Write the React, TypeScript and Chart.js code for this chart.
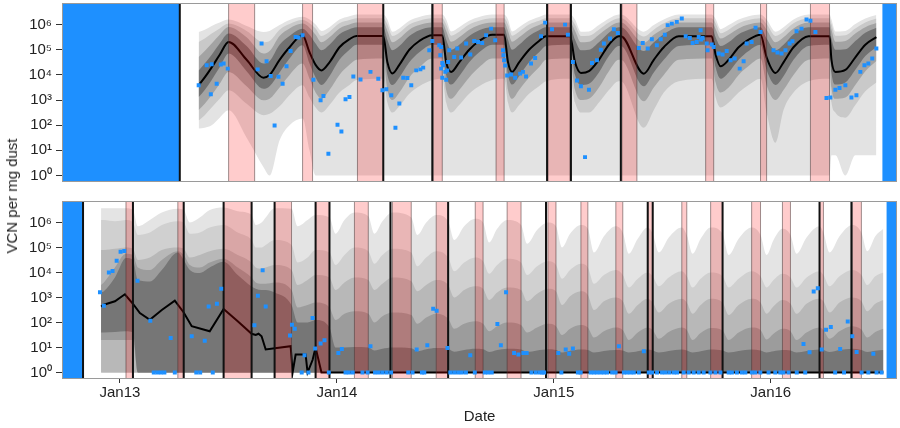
import { useEffect, useRef } from "react";
import { Chart, registerables } from "chart.js";

Chart.register(...registerables);

const FONT = "'Liberation Sans', Arial, Helvetica, sans-serif";

// ---------- axes ----------
const X_MIN = 2012.733;
const X_MAX = 2016.583;
const Y_MIN_LOG10 = -0.26;
const Y_MAX_LOG10 = 6.86;
const xTickYears = [2013, 2014, 2015, 2016];
const xTickLabels = ["Jan13", "Jan14", "Jan15", "Jan16"];
const yTickLog10 = [0, 1, 2, 3, 4, 5, 6];
const yTickLabels = ["10⁰", "10¹", "10²", "10³", "10⁴", "10⁵", "10⁶"];

// ---------- TOP PANEL ----------
const topNoDataStart = [X_MIN, 2016.514];
const topNoDataEnd = [2013.276, X_MAX];
const topEventLines = [2013.276, 2014.214, 2014.44, 2014.969, 2015.079, 2015.309];
const topPinkStart = [2013.501, 2013.842, 2014.095, 2014.444, 2014.734, 2014.973, 2015.314, 2015.7, 2015.953, 2016.183];
const topPinkEnd = [2013.621, 2013.888, 2014.214, 2014.486, 2014.771, 2015.075, 2015.383, 2015.737, 2015.981, 2016.271];

const topGridX = [
  2013.363, 2013.391, 2013.423, 2013.46, 2013.501, 2013.584, 2013.662, 2013.69, 2013.736, 2013.782, 2013.842,
  2013.874, 2013.902, 2013.929, 2013.966, 2014.012, 2014.058, 2014.09, 2014.214,
  2014.233, 2014.256, 2014.288, 2014.334, 2014.38, 2014.44, 2014.486,
  2014.504, 2014.527, 2014.564, 2014.61, 2014.656, 2014.716, 2014.771,
  2014.789, 2014.808, 2014.84, 2014.886, 2014.932, 2014.964, 2015.075,
  2015.098, 2015.125, 2015.162, 2015.208, 2015.254, 2015.3,
  2015.309, 2015.415, 2015.461, 2015.507, 2015.576, 2015.728,
  2015.746, 2015.769, 2015.806, 2015.852, 2015.898, 2015.953,
  2015.981, 2016.022, 2016.059, 2016.105, 2016.174, 2016.271,
  2016.28, 2016.298, 2016.344, 2016.39, 2016.436, 2016.487,
];
const topMedianLog10 = [
  3.59, 3.9, 4.3, 4.8, 5.31, 4.6, 3.89, 4.0, 4.6, 5.1, 5.58,
  4.9, 4.4, 4.18, 4.5, 5.1, 5.42, 5.55, 5.55,
  4.5, 4.06, 4.4, 5.0, 5.35, 5.58, 5.58,
  4.5, 4.12, 4.5, 5.0, 5.35, 5.6, 5.6,
  4.5, 4.12, 4.5, 5.0, 5.35, 5.54, 5.54,
  4.5, 4.08, 4.15, 4.6, 5.2, 5.54,
  5.54, 4.05, 4.6, 5.1, 5.54, 5.54,
  4.8, 4.34, 4.6, 5.1, 5.4, 5.6,
  4.7, 4.08, 4.5, 5.1, 5.54, 5.54,
  4.6, 4.12, 4.2, 4.7, 5.2, 5.5,
];
const topU1Log10 = [
  5.71, 5.8, 5.95, 6.08, 6.2, 5.95, 5.71, 5.75, 5.98, 6.18, 6.31,
  6.2, 6.0, 5.75, 5.9, 6.2, 6.33, 6.4, 6.4,
  6.2, 5.72, 5.85, 6.15, 6.3, 6.4, 6.4,
  6.2, 5.73, 5.9, 6.15, 6.3, 6.4, 6.4,
  6.2, 5.73, 5.9, 6.15, 6.3, 6.4, 6.4,
  6.2, 5.72, 5.73, 5.98, 6.24, 6.4,
  6.4, 5.72, 5.98, 6.2, 6.4, 6.4,
  6.22, 5.82, 5.98, 6.2, 6.33, 6.4,
  6.2, 5.72, 5.9, 6.2, 6.4, 6.4,
  6.2, 5.73, 5.75, 6.02, 6.24, 6.38,
];
const topU2Log10 = [
  5.31, 5.45, 5.65, 5.85, 6.04, 5.75, 5.3, 5.35, 5.8, 6.02, 6.18,
  6.05, 5.85, 5.55, 5.72, 6.05, 6.18, 6.25, 6.25,
  6.0, 5.55, 5.68, 6.0, 6.15, 6.25, 6.25,
  6.0, 5.56, 5.72, 6.0, 6.15, 6.25, 6.25,
  6.0, 5.56, 5.72, 6.0, 6.15, 6.25, 6.25,
  6.0, 5.55, 5.56, 5.8, 6.08, 6.25,
  6.25, 5.53, 5.8, 6.05, 6.25, 6.25,
  6.05, 5.66, 5.8, 6.05, 6.18, 6.25,
  6.02, 5.55, 5.72, 6.05, 6.25, 6.25,
  6.02, 5.56, 5.58, 5.85, 6.08, 6.24,
];
const topU3Log10 = [
  4.71, 4.95, 5.25, 5.6, 5.91, 5.5, 4.85, 4.95, 5.55, 5.85, 6.04,
  5.88, 5.6, 5.3, 5.5, 5.85, 6.0, 6.08, 6.08,
  5.75, 5.3, 5.45, 5.8, 5.98, 6.08, 6.08,
  5.75, 5.32, 5.5, 5.8, 5.98, 6.08, 6.08,
  5.75, 5.32, 5.5, 5.8, 5.98, 6.08, 6.08,
  5.75, 5.3, 5.32, 5.6, 5.9, 6.08,
  6.08, 5.28, 5.6, 5.85, 6.08, 6.08,
  5.82, 5.45, 5.6, 5.85, 6.0, 6.08,
  5.8, 5.3, 5.5, 5.85, 6.08, 6.08,
  5.8, 5.32, 5.35, 5.65, 5.9, 6.06,
];
const topU4Log10 = [
  4.18, 4.45, 4.8, 5.25, 5.65, 5.15, 4.45, 4.55, 5.2, 5.55, 5.84,
  5.6, 5.25, 4.98, 5.2, 5.62, 5.82, 5.9, 5.9,
  5.4, 4.98, 5.15, 5.55, 5.78, 5.9, 5.9,
  5.4, 5.0, 5.2, 5.55, 5.78, 5.9, 5.9,
  5.4, 5.0, 5.2, 5.55, 5.78, 5.9, 5.9,
  5.4, 4.98, 5.0, 5.3, 5.68, 5.9,
  5.9, 4.95, 5.3, 5.62, 5.9, 5.9,
  5.5, 5.15, 5.3, 5.62, 5.8, 5.9,
  5.45, 4.98, 5.2, 5.62, 5.9, 5.9,
  5.45, 5.0, 5.02, 5.35, 5.68, 5.88,
];
const topL4Log10 = [
  3.12, 3.4, 3.8, 4.3, 4.85, 4.15, 3.45, 3.55, 4.1, 4.65, 5.18,
  4.45, 3.9, 3.6, 3.95, 4.6, 5.0, 5.2, 5.2,
  4.0, 3.6, 3.9, 4.5, 4.9, 5.2, 5.2,
  4.0, 3.62, 3.95, 4.5, 4.9, 5.2, 5.2,
  4.0, 3.62, 3.95, 4.5, 4.9, 5.15, 5.2,
  4.0, 3.6, 3.65, 4.1, 4.75, 5.15,
  5.15, 3.55, 4.1, 4.6, 5.15, 5.2,
  4.3, 3.85, 4.1, 4.6, 4.95, 5.2,
  4.2, 3.6, 3.95, 4.6, 5.15, 5.2,
  4.1, 3.62, 3.7, 4.2, 4.75, 5.1,
];
const topL3Log10 = [
  2.6, 2.85, 3.2, 3.65, 4.12, 3.55, 2.99, 3.05, 3.5, 4.0, 4.45,
  3.85, 3.3, 3.05, 3.4, 4.0, 4.4, 4.6, 4.65,
  3.4, 3.0, 3.3, 3.9, 4.3, 4.65, 4.65,
  3.4, 3.05, 3.4, 3.9, 4.3, 4.65, 4.65,
  3.4, 3.05, 3.4, 3.9, 4.3, 4.6, 4.65,
  3.4, 3.0, 3.05, 3.5, 4.15, 4.6,
  4.6, 2.95, 3.5, 4.0, 4.6, 4.65,
  3.7, 3.3, 3.5, 4.0, 4.35, 4.65,
  3.6, 3.0, 3.4, 4.0, 4.6, 4.65,
  3.5, 3.05, 3.1, 3.6, 4.15, 4.55,
];
const topL2Log10 = [
  2.19, 2.4, 2.7, 3.05, 3.39, 2.85, 2.4, 2.45, 2.75, 3.2, 3.59,
  3.1, 2.7, 2.5, 2.8, 3.3, 3.6, 3.8, 3.85,
  2.9, 2.5, 2.75, 3.25, 3.55, 3.8, 3.85,
  2.9, 2.5, 2.8, 3.25, 3.55, 3.8, 3.85,
  2.9, 2.5, 2.8, 3.25, 3.55, 3.75, 3.85,
  2.9, 2.5, 2.5, 2.9, 3.4, 3.75,
  3.75, 1.9, 2.6, 3.3, 3.75, 3.85,
  3.1, 2.7, 2.9, 3.3, 3.6, 3.85,
  2.5, 1.3, 2.6, 3.3, 3.75, 3.85,
  2.9, 2.5, 2.3, 2.8, 3.35, 3.7,
];
const topL1Log10 = [
  1.87, 1.9, 2.0, 2.3, 2.59, 1.5, 0.33, 0, 1.4, 2.0, 2.27,
  1.0, 0, 0, 0, 0, 0, 0, 0,
  0, 0, 0, 0, 0, 0, 0,
  0, 0, 0, 0, 0, 0, 0,
  0, 0, 0, 0, 0, 0, 0,
  0, 0, 0, 0, 0, 0,
  0, 0, 0, 0, 0, 0,
  0, 0, 0, 0, 0, 0,
  0, 0, 0, 0, 0, 0,
  0.8, 0.8, 0, 0.8, 0.8, 0.8,
];

const topObsX = [
  2013.363, 2013.4, 2013.423, 2013.419, 2013.446, 2013.465, 2013.478, 2013.497,
  2013.635, 2013.653, 2013.676, 2013.695, 2013.713, 2013.731, 2013.75, 2013.768, 2013.787, 2013.81, 2013.823, 2013.842,
  2013.892, 2013.925, 2013.938, 2013.961, 2014.003, 2014.021, 2014.04, 2014.058, 2014.076, 2014.109, 2014.155, 2014.191, 2014.21,
  2014.228, 2014.251, 2014.27, 2014.288, 2014.306, 2014.325, 2014.343, 2014.366, 2014.385, 2014.398, 2014.426, 2014.44,
  2014.472, 2014.481, 2014.477, 2014.486, 2014.481, 2014.49, 2014.5, 2014.509, 2014.486, 2014.504, 2014.513,
  2014.518, 2014.541, 2014.555, 2014.573, 2014.596, 2014.615, 2014.633, 2014.651, 2014.67, 2014.688, 2014.711, 2014.73,
  2014.766, 2014.768, 2014.771, 2014.776, 2014.785, 2014.803, 2014.822, 2014.845, 2014.858, 2014.872, 2014.895, 2014.914,
  2014.941, 2014.96, 2014.992, 2015.052, 2015.065, 2015.088, 2015.107, 2015.125, 2015.144, 2015.162, 2015.176, 2015.199,
  2015.217, 2015.231, 2015.259, 2015.277, 2015.295,
  2015.392, 2015.41, 2015.433, 2015.452, 2015.475, 2015.493, 2015.512, 2015.525, 2015.544, 2015.567, 2015.59,
  2015.608, 2015.627, 2015.64, 2015.659, 2015.668, 2015.677, 2015.679, 2015.686, 2015.705, 2015.709, 2015.728, 2015.737,
  2015.76, 2015.778, 2015.797, 2015.815, 2015.834, 2015.857, 2015.875, 2015.889, 2015.912, 2015.93, 2015.953,
  2016.013, 2016.031, 2016.05, 2016.068, 2016.087, 2016.1, 2016.119, 2016.142, 2016.165, 2016.183, 2016.206,
  2016.257, 2016.275, 2016.298, 2016.317, 2016.344, 2016.372, 2016.395, 2016.413, 2016.432, 2016.45, 2016.468, 2016.487,
];
const topObsLog10 = [
  3.59, 4.38, 4.42, 3.23, 3.65, 4.41, 4.45, 4.25,
  4.22, 5.25, 4.54, 3.96, 1.99, 3.93, 3.65, 4.34, 4.95, 5.51, 5.49, 5.58,
  3.81, 2.99, 3.16, 0.86, 2.02, 1.75, 3.03, 3.12, 3.94, 3.82, 4.12, 3.85, 3.39,
  3.43, 3.19, 1.9, 2.86, 3.89, 3.88, 3.59, 4.18, 4.22, 4.29, 4.98, 5.35,
  5.18, 5.11, 4.78, 4.47, 4.25, 4.38, 4.12, 4.18, 3.89, 3.81, 4.51,
  4.98, 4.71, 5.05, 4.69, 5.25, 4.81, 5.35, 5.31, 5.27, 5.58, 5.84, 5.38,
  4.98, 4.78, 4.58, 4.37, 3.98, 4.02, 3.89, 4.05, 4.12, 3.94, 4.45, 4.67,
  5.54, 6.08, 5.82, 6.0, 5.6, 4.51, 3.78, 3.55, 0.73, 3.41, 4.47, 4.58,
  5.0, 5.25, 5.45, 5.82, 5.67,
  5.07, 5.27, 5.05, 5.42, 5.18, 5.42, 5.6, 5.98, 6.04, 6.11, 6.24,
  5.54, 5.47, 5.27, 5.31, 5.51, 5.78, 5.41, 5.47, 5.25, 4.98, 5.21, 5.11,
  4.85, 4.81, 4.95, 4.58, 4.65, 4.25, 4.54, 5.25, 5.31, 5.88, 5.71,
  4.98, 4.89, 4.85, 4.98, 5.25, 5.34, 5.74, 5.84, 6.2, 6.15, 5.71,
  3.08, 3.1, 3.41, 3.48, 3.59, 3.1, 3.19, 4.12, 4.38, 4.45, 4.65, 5.05,
];

// ---------- BOTTOM PANEL ----------
const botNoDataStart = [X_MIN, 2016.533];
const botNoDataEnd = [2012.83, X_MAX];
const botEventLines = [2012.83, 2013.06, 2013.294, 2013.478, 2013.607, 2013.713, 2013.902, 2013.966, 2014.247, 2014.513, 2014.964, 2015.433, 2015.456, 2015.778, 2016.225, 2016.372];
const botPinkStart = [2013.028, 2013.267, 2013.478, 2013.713, 2013.902, 2014.081, 2014.256, 2014.458, 2014.638, 2014.785, 2014.973, 2015.125, 2015.286, 2015.433, 2015.59, 2015.723, 2015.912, 2016.054, 2016.225, 2016.376];
const botPinkEnd = [2013.06, 2013.294, 2013.607, 2013.791, 2013.966, 2014.145, 2014.343, 2014.513, 2014.674, 2014.849, 2015.01, 2015.157, 2015.318, 2015.456, 2015.613, 2015.778, 2015.953, 2016.091, 2016.243, 2016.418];

const botGridX = [
  2012.913, 2012.926, 2012.977, 2013.028, 2013.06, 2013.083, 2013.138, 2013.193, 2013.267, 2013.294,
  2013.322, 2013.368, 2013.414, 2013.478, 2013.543, 2013.607, 2013.626, 2013.653, 2013.672, 2013.713,
  2013.791, 2013.819, 2013.865, 2013.902, 2013.966,
  2013.994, 2014.035, 2014.081,
  2014.145, 2014.173, 2014.21, 2014.256,
  2014.343, 2014.371, 2014.412, 2014.458,
  2014.513, 2014.541, 2014.587, 2014.638,
  2014.674, 2014.702, 2014.739, 2014.785,
  2014.849, 2014.877, 2014.923, 2014.973,
  2015.01, 2015.038, 2015.075, 2015.125,
  2015.157, 2015.185, 2015.231, 2015.286,
  2015.318, 2015.346, 2015.387, 2015.433,
  2015.456, 2015.484, 2015.53, 2015.59,
  2015.613, 2015.64, 2015.677, 2015.723,
  2015.778, 2015.806, 2015.852, 2015.912,
  2015.953, 2015.981, 2016.013, 2016.054,
  2016.091, 2016.119, 2016.165, 2016.225,
  2016.243, 2016.271, 2016.317, 2016.376,
  2016.418, 2016.445, 2016.482, 2016.519,
];
const botU1Log10 = [
  6.57, 6.57, 6.57, 6.57, 6.5, 5.85, 6.1, 6.4, 6.55, 6.5,
  6.0, 6.2, 6.5, 6.6, 6.45, 6.3, 5.9, 6.0, 6.2, 6.57,
  6.55, 5.85, 6.1, 6.3, 6.2,
  5.55, 6.1, 6.4,
  6.25, 5.55, 6.05, 6.4,
  6.2, 5.5, 6.0, 6.3,
  6.05, 5.3, 5.85, 6.15,
  6.0, 5.2, 5.75, 6.1,
  5.9, 5.15, 5.7, 6.0,
  5.85, 5.0, 5.55, 5.9,
  5.75, 4.8, 5.45, 5.85,
  5.6, 4.75, 5.35, 5.8,
  5.55, 4.8, 5.4, 5.8,
  5.5, 4.75, 5.35, 5.8,
  5.55, 4.7, 5.35, 5.8,
  5.5, 4.7, 5.3, 5.75,
  5.5, 4.75, 5.4, 5.85,
  5.6, 4.8, 5.45, 5.9,
  5.6, 4.85, 5.45, 5.75,
];
const botU2Log10 = [
  6.1, 6.1, 6.05, 6.1, 6.0, 5.5, 5.6, 5.9, 6.05, 6.0,
  5.55, 5.6, 5.8, 5.9, 5.6, 5.3, 5.0, 5.0, 5.1, 5.3,
  5.1, 4.4, 4.6, 4.9, 4.8,
  4.3, 4.7, 5.0,
  4.85, 4.35, 4.7, 4.95,
  4.8, 4.25, 4.6, 4.85,
  4.6, 4.05, 4.4, 4.6,
  4.45, 3.95, 4.3, 4.55,
  4.4, 3.9, 4.25, 4.45,
  4.3, 3.75, 4.1, 4.35,
  4.2, 3.55, 3.9, 4.1,
  3.9, 3.4, 3.75, 4.0,
  3.85, 3.45, 3.8, 4.05,
  3.85, 3.4, 3.75, 4.0,
  3.85, 3.4, 3.75, 4.05,
  3.85, 3.4, 3.7, 3.95,
  3.8, 3.4, 3.8, 4.05,
  3.9, 3.45, 3.85, 4.1,
  3.9, 3.5, 3.85, 4.0,
];
const botU3Log10 = [
  4.9, 4.9, 4.95, 5.0, 4.95, 4.5, 4.6, 4.9, 5.0, 4.95,
  4.6, 4.7, 4.85, 4.95, 4.7, 4.4, 4.2, 4.15, 4.2, 4.3,
  4.1, 3.5, 3.7, 3.9, 3.8,
  3.3, 3.6, 3.8,
  3.7, 3.3, 3.55, 3.8,
  3.65, 3.25, 3.5, 3.7,
  3.5, 3.0, 3.3, 3.45,
  3.35, 2.9, 3.2, 3.4,
  3.3, 2.85, 3.15, 3.35,
  3.25, 2.7, 3.05, 3.25,
  3.1, 2.5, 2.85, 3.0,
  2.85, 2.35, 2.7, 2.95,
  2.8, 2.4, 2.75, 2.95,
  2.8, 2.35, 2.7, 2.95,
  2.8, 2.3, 2.7, 2.95,
  2.8, 2.35, 2.65, 2.9,
  2.75, 2.35, 2.75, 2.95,
  2.85, 2.4, 2.8, 3.0,
  2.85, 2.45, 2.75, 2.9,
];
const botU4Log10 = [
  3.5, 3.6, 4.2, 4.75, 4.7, 4.2, 4.1, 4.5, 4.85, 4.7,
  4.3, 4.2, 4.4, 4.55, 4.2, 3.8, 3.6, 3.55, 3.55, 3.6,
  3.3, 2.6, 2.7, 2.8, 2.6,
  2.1, 2.35, 2.45,
  2.35, 2.0, 2.25, 2.4,
  2.3, 1.95, 2.2, 2.35,
  2.15, 1.75, 1.95, 2.05,
  1.95, 1.65, 1.85, 2.0,
  1.9, 1.6, 1.8, 1.95,
  1.85, 1.5, 1.75, 1.9,
  1.8, 1.4, 1.65, 1.8,
  1.7, 1.3, 1.6, 1.8,
  1.7, 1.35, 1.62, 1.8,
  1.7, 1.3, 1.58, 1.78,
  1.68, 1.3, 1.6, 1.8,
  1.7, 1.32, 1.55, 1.75,
  1.65, 1.3, 1.6, 1.8,
  1.7, 1.35, 1.65, 1.85,
  1.72, 1.4, 1.62, 1.75,
];
const botU5Log10 = [
  3.2, 3.25, 3.8, 4.58, 4.5, 3.7, 3.64, 4.1, 4.8, 4.5,
  4.1, 3.98, 4.2, 4.43, 3.9, 3.44, 3.35, 3.3, 3.3, 3.2,
  2.7, 2.0, 2.0, 2.1, 1.8,
  1.0, 1.0, 1.02,
  1.0, 0.88, 0.95, 1.0,
  0.97, 0.85, 0.93, 0.98,
  0.95, 0.83, 0.9, 0.95,
  0.93, 0.82, 0.9, 0.95,
  0.92, 0.82, 0.88, 0.93,
  0.9, 0.8, 0.87, 0.92,
  0.9, 0.8, 0.86, 0.9,
  0.88, 0.8, 0.85, 0.92,
  0.88, 0.8, 0.86, 0.92,
  0.88, 0.8, 0.85, 0.92,
  0.88, 0.8, 0.86, 0.92,
  0.88, 0.8, 0.85, 0.9,
  0.88, 0.8, 0.86, 0.92,
  0.9, 0.82, 0.9, 0.95,
  0.9, 0.82, 0.87, 0.9,
];
const botL5Log10 = [
  1.6, 1.6, 1.62, 1.65, 1.6, 0, 0, 0, 0, 0,
  0, 0, 0, 0, 0, 0, 0, 0, 0, 0,
  0, 0, 0, 0, 0,
  0, 0, 0,
  0, 0, 0, 0, 0, 0, 0, 0, 0, 0,
  0, 0, 0, 0, 0, 0, 0, 0, 0, 0,
  0, 0, 0, 0, 0, 0, 0, 0, 0, 0,
  0, 0, 0, 0, 0, 0, 0, 0, 0, 0,
  0, 0, 0, 0, 0, 0, 0, 0, 0, 0,
  0, 0, 0, 0, 0, 0, 0, 0, 0, 0,
];
const botL4Log10 = [
  1.3, 1.3, 1.3, 1.3, 1.3, 0, 0, 0, 0, 0,
  0, 0, 0, 0, 0, 0, 0, 0, 0, 0,
  0, 0, 0, 0, 0,
  0, 0, 0,
  0, 0, 0, 0, 0, 0, 0, 0, 0, 0,
  0, 0, 0, 0, 0, 0, 0, 0, 0, 0,
  0, 0, 0, 0, 0, 0, 0, 0, 0, 0,
  0, 0, 0, 0, 0, 0, 0, 0, 0, 0,
  0, 0, 0, 0, 0, 0, 0, 0, 0, 0,
  0, 0, 0, 0, 0, 0, 0, 0, 0, 0,
];

const botMedX = [
  2012.913, 2012.926, 2012.977, 2013.023, 2013.06, 2013.092, 2013.138, 2013.193, 2013.253, 2013.294,
  2013.331, 2013.414, 2013.478, 2013.543, 2013.607, 2013.626, 2013.639, 2013.653, 2013.672, 2013.787,
  2013.796, 2013.81, 2013.856, 2013.865, 2013.888, 2013.902, 2013.929, 2016.519,
];
const botMedLog10 = [
  2.64, 2.71, 2.85, 3.13, 2.75, 2.38, 2.11, 2.5, 2.87, 2.4,
  1.85, 1.65, 2.54, 2.05, 1.55, 1.5, 1.55, 1.45, 0.92, 1.05,
  0, 0.72, 0.72, 0, 0.5, 1.0, 0, 0,
];

const botObsX = [
  2012.908, 2012.926, 2012.949, 2012.966, 2012.985, 2013.003, 2013.02, 2013.081, 2013.14, 2013.156, 2013.173, 2013.189, 2013.205, 2013.234, 2013.253,
  2013.331, 2013.352, 2013.37, 2013.391, 2013.409, 2013.428, 2013.447, 2013.467, 2013.62, 2013.636, 2013.658, 2013.672,
  2013.784, 2013.793, 2013.806, 2013.838, 2013.851, 2013.869, 2013.888, 2013.9, 2013.925, 2013.943, 2013.963,
  2014.007, 2014.023, 2014.04, 2014.055, 2014.073, 2014.118, 2014.142, 2014.155, 2014.176, 2014.193, 2014.211, 2014.23, 2014.25,
  2014.329, 2014.349, 2014.368, 2014.392, 2014.403, 2014.417, 2014.444, 2014.46, 2014.51, 2014.523, 2014.541, 2014.559, 2014.576, 2014.595, 2014.615, 2014.636,
  2014.682, 2014.697, 2014.714, 2014.74, 2014.756, 2014.78, 2014.817, 2014.837, 2014.86, 2014.875, 2014.897, 2014.917, 2014.935, 2014.947, 2014.955,
  2015.021, 2015.035, 2015.055, 2015.071, 2015.088, 2015.111, 2015.124, 2015.17, 2015.185, 2015.2, 2015.216, 2015.231, 2015.246, 2015.269, 2015.285, 2015.3,
  2015.323, 2015.338, 2015.354, 2015.369, 2015.392, 2015.415, 2015.438, 2015.453, 2015.476, 2015.499, 2015.515, 2015.533, 2015.553, 2015.568,
  2015.599, 2015.622, 2015.645, 2015.668, 2015.691, 2015.722, 2015.745, 2015.768, 2015.806, 2015.821, 2015.844, 2015.867, 2015.883, 2015.913, 2015.929, 2015.952,
  2015.99, 2016.021, 2016.044, 2016.059, 2016.082, 2016.12, 2016.151, 2016.159, 2016.179, 2016.198, 2016.217, 2016.235, 2016.255, 2016.277,
  2016.297, 2016.32, 2016.338, 2016.355, 2016.376, 2016.396, 2016.419, 2016.45, 2016.473, 2016.488, 2016.511,
];
const botObsLog10 = [
  3.21, 2.67, 4.0, 4.06, 4.47, 4.83, 4.86, 3.67, 2.07, 0, 0, 0, 0, 1.38, 0,
  1.45, 0, 0, 1.27, 2.64, 0, 2.75, 3.35, 1.89, 3.07, 4.09, 2.64,
  1.48, 1.91, 1.75, 0, 0.69, 0, 2.18, 0.96, 1.16, 1.29, 0,
  0.78, 0.94, 0, 0, 0, 0, 0, 1.05, 0, 0, 0, 0, 0,
  0, 0, 0.92, 0, 0, 1.09, 2.55, 2.47, 0.98, 0, 0, 0, 0, 0, 0.69, 0,
  0, 0, 0, 1.94, 1.09, 3.21, 0.78, 0.72, 0.78, 0.78, 0, 0, 0, 0, 0,
  0.78, 0, 0.92, 0.75, 0.96, 0, 0, 0, 0, 0, 0, 0, 0, 0, 0, 1.05,
  0, 0, 0, 0, 0, 0.85, 0, 0, 0, 0, 0, 0, 0, 0,
  0, 0, 0, 0, 0, 0, 0, 0, 0, 0, 0, 0, 0, 0, 0, 0,
  0, 0, 0, 0, 0, 0, 1.14, 0, 0.81, 3.24, 3.37, 0.92, 1.71, 1.82,
  0, 0.94, 0, 2.04, 1.45, 0.82, 0, 0, 0.75, 0, 0,
];

// ---------- helpers ----------
const pow10 = (e: number) => Math.pow(10, e);
const Y_MIN = pow10(Y_MIN_LOG10);
const Y_MAX = pow10(Y_MAX_LOG10);

const series = (xs: number[], es: number[]) => xs.map((x, i) => ({ x, y: pow10(es[i]) }));
const vSegments = (xs: number[]) => {
  const out: any[] = [];
  xs.forEach((x) => {
    out.push({ x, y: Y_MIN }, { x, y: Y_MAX }, { x, y: null });
  });
  return out;
};
const span = (a: number, b: number) => [{ x: a, y: Y_MAX }, { x: b, y: Y_MAX }];

interface Band { upper: number[]; lower: number[] | null; color: string }
interface Panel {
  noDataStart: number[]; noDataEnd: number[];
  gridX: number[]; bands: Band[];
  medX: number[]; med: number[]; medMono: boolean;
  pinkStart: number[]; pinkEnd: number[];
  events: number[];
  obsX: number[]; obs: number[];
}

const topPanel: Panel = {
  noDataStart: topNoDataStart, noDataEnd: topNoDataEnd,
  gridX: topGridX,
  bands: [
    { upper: topU1Log10, lower: topL1Log10, color: "#E3E3E3" },
    { upper: topU2Log10, lower: topL2Log10, color: "#C9C9C9" },
    { upper: topU3Log10, lower: topL3Log10, color: "#A3A3A3" },
    { upper: topU4Log10, lower: topL4Log10, color: "#727272" },
  ],
  medX: topGridX, med: topMedianLog10, medMono: true,
  pinkStart: topPinkStart, pinkEnd: topPinkEnd,
  events: topEventLines,
  obsX: topObsX, obs: topObsLog10,
};

const botPanel: Panel = {
  noDataStart: botNoDataStart, noDataEnd: botNoDataEnd,
  gridX: botGridX,
  bands: [
    { upper: botU1Log10, lower: null, color: "#E4E4E4" },
    { upper: botU2Log10, lower: null, color: "#D0D0D0" },
    { upper: botU3Log10, lower: null, color: "#B8B8B8" },
    { upper: botU4Log10, lower: botL4Log10, color: "#9C9C9C" },
    { upper: botU5Log10, lower: botL5Log10, color: "#767676" },
  ],
  medX: botMedX, med: botMedLog10, medMono: false,
  pinkStart: botPinkStart, pinkEnd: botPinkEnd,
  events: botEventLines,
  obsX: botObsX, obs: botObsLog10,
};

function buildDatasets(p: Panel) {
  const ds: any[] = [];
  const base = {
    pointRadius: 0, pointHoverRadius: 0, borderWidth: 0,
    borderColor: "transparent", backgroundColor: "transparent", fill: false,
  };
  p.noDataStart.forEach((a, i) => {
    ds.push({ ...base, data: span(a, p.noDataEnd[i]), fill: "start", backgroundColor: "#1E90FF", order: 1000 });
  });
  p.bands.forEach((b, k) => {
    let fill: any = { value: 1 };
    if (b.lower) {
      ds.push({ ...base, data: series(p.gridX, b.lower), cubicInterpolationMode: "monotone", order: 950 });
      fill = { target: ds.length - 1 };
    }
    ds.push({
      ...base, data: series(p.gridX, b.upper), fill, backgroundColor: b.color,
      cubicInterpolationMode: "monotone", order: 900 - k * 10,
    });
  });
  ds.push({
    ...base, data: series(p.medX, p.med), borderWidth: 2, borderColor: "#000",
    cubicInterpolationMode: p.medMono ? "monotone" : "default", tension: 0, order: 500,
  });
  p.pinkStart.forEach((a, i) => {
    ds.push({ ...base, data: span(a, p.pinkEnd[i]), fill: "start", backgroundColor: "rgba(255,0,0,0.2)", order: 400 });
  });
  ds.push({ ...base, data: vSegments([...p.pinkStart, ...p.pinkEnd]), borderWidth: 1, borderColor: "rgba(80,50,50,0.55)", spanGaps: false, order: 390 });
  ds.push({ ...base, data: vSegments(p.events), borderWidth: 2, borderColor: "#111", spanGaps: false, order: 300 });
  ds.push({
    ...base, data: series(p.obsX, p.obs), showLine: false, pointStyle: "rect", pointRadius: 2.8,
    pointBackgroundColor: "#1E90FF", pointBorderColor: "#1E90FF", pointBorderWidth: 0, order: 100,
  });
  return ds;
}

const framePlugin = {
  id: "frame",
  afterDatasetsDraw(chart: any) {
    const { ctx, chartArea: a } = chart;
    ctx.save();
    ctx.strokeStyle = "#9a9a9a";
    ctx.lineWidth = 1;
    ctx.strokeRect(Math.round(a.left) + 0.5, Math.round(a.top) + 0.5, Math.round(a.right - a.left) - 1, Math.round(a.bottom - a.top) - 1);
    ctx.restore();
  },
};

function makeConfig(p: Panel, showX: boolean, padTop: number, padBottom: number): any {
  const tickFont = { family: FONT, size: 15 };
  return {
    type: "line",
    data: { datasets: buildDatasets(p) },
    plugins: [framePlugin],
    options: {
      animation: false,
      responsive: false,
      devicePixelRatio: 1,
      events: [],
      layout: { padding: { top: padTop, bottom: padBottom, left: 0, right: 1 } },
      plugins: { legend: { display: false }, tooltip: { enabled: false } },
      scales: {
        x: {
          type: "linear", min: X_MIN, max: X_MAX, display: showX,
          afterBuildTicks: (s: any) => { s.ticks = xTickYears.map((v) => ({ value: v })); },
          afterFit: (s: any) => { s.height = showX ? 49 : 0; s.paddingLeft = 0; s.paddingRight = 0; },
          ticks: {
            autoSkip: false, maxRotation: 0, padding: 1, color: "#222", font: tickFont,
            callback: (v: number) => xTickLabels[xTickYears.indexOf(v)],
          },
          grid: { drawOnChartArea: false, drawTicks: true, tickLength: 4, color: "#333" },
          border: { display: false },
          title: { display: showX, text: "Date", color: "#222", font: tickFont, padding: { top: 0, bottom: 2 } },
        },
        y: {
          type: "logarithmic", min: Y_MIN, max: Y_MAX,
          afterBuildTicks: (s: any) => { s.ticks = yTickLog10.map((e) => ({ value: pow10(e) })); },
          afterFit: (s: any) => { s.width = 62; s.paddingTop = 0; s.paddingBottom = 0; },
          ticks: {
            autoSkip: false, padding: 4, color: "#222", font: tickFont,
            callback: (v: number) => yTickLabels[yTickLog10.indexOf(Math.round(Math.log10(v)))],
          },
          grid: { drawOnChartArea: false, drawTicks: true, tickLength: 6, color: "#333" },
          border: { display: false },
        },
      },
    },
  };
}

export default function App() {
  const topRef = useRef<HTMLCanvasElement>(null);
  const botRef = useRef<HTMLCanvasElement>(null);
  useEffect(() => {
    const c1 = new Chart(topRef.current as HTMLCanvasElement, makeConfig(topPanel, false, 3, 8));
    const c2 = new Chart(botRef.current as HTMLCanvasElement, makeConfig(botPanel, true, 11, 0));
    return () => { c1.destroy(); c2.destroy(); };
  }, []);
  return (
    <div style={{ position: "absolute", left: 0, top: 0, width: 900, height: 428, background: "#fff", overflow: "hidden" }}>
      <canvas ref={topRef} width={900} height={190} style={{ position: "absolute", left: 0, top: 0, width: 900, height: 190 }} />
      <canvas ref={botRef} width={900} height={238} style={{ position: "absolute", left: 0, top: 190, width: 900, height: 238 }} />
      <div
        style={{
          position: "absolute", left: 12, top: 196, transform: "translate(-50%, -50%) rotate(-90deg)",
          whiteSpace: "nowrap", fontFamily: FONT, fontSize: 15, color: "#222", lineHeight: "18px",
        }}
      >
        VCN per mg dust
      </div>
    </div>
  );
}
